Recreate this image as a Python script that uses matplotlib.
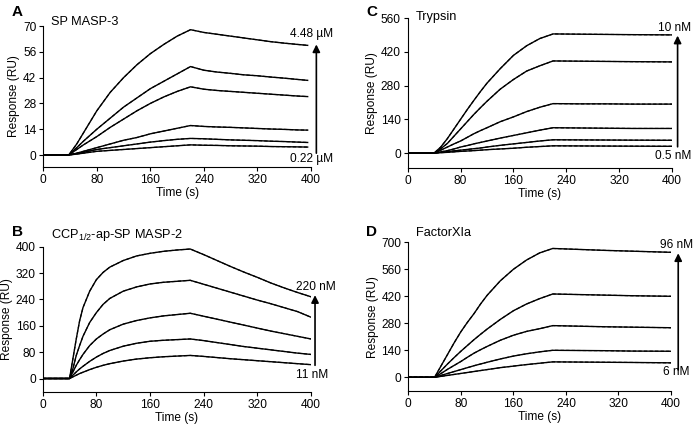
import numpy as np
import matplotlib
matplotlib.use('Agg')
import matplotlib.pyplot as plt

plt.rcParams['font.family'] = ['Liberation Sans', 'DejaVu Sans']
plt.rcParams['mathtext.fontset'] = 'custom'
plt.rcParams['mathtext.rm'] = 'Liberation Sans'

# ---- A : SP MASP-3 (µM series) ----
tA = [0, 38, 50, 60, 80, 100, 120, 140, 160, 180, 200, 220, 240, 260, 280, 300, 320, 340, 360, 380, 395]
a1 = [0, 0, 6, 12, 24, 34, 42, 49, 55, 60, 64.5, 68, 66.5, 65.5, 64.5, 63.5, 62.5, 61.5, 60.7, 60, 59.5]
a2 = [0, 0, 4, 7.5, 14, 20, 26, 31, 36, 40, 44, 48, 46, 45, 44.3, 43.5, 43, 42.3, 41.7, 41, 40.5]
a3 = [0, 0, 3, 5.5, 10, 15, 19.5, 24, 28, 31.5, 34.5, 37, 35.7, 35, 34.5, 34, 33.5, 33, 32.5, 32, 31.7]
a4 = [0, 0, 1, 2, 4, 6, 8, 9.5, 11.5, 13, 14.5, 16, 15.5, 15.2, 15, 14.7, 14.4, 14.1, 13.9, 13.6, 13.5]
a5 = [0, 0, 0.8, 1.5, 3, 4, 5, 6, 7, 7.8, 8.5, 9, 8.8, 8.5, 8.2, 8, 7.8, 7.5, 7.3, 7, 6.8]
a6 = [0, 0, 0.5, 1, 2, 2.5, 3, 3.5, 4, 4.5, 5, 5.5, 5.3, 5.2, 5, 4.9, 4.8, 4.6, 4.5, 4.4, 4.3]

# ---- B : CCP1/2-ap-SP MASP-2 ----
tB = [0, 40, 45, 50, 55, 60, 70, 80, 90, 100, 120, 140, 160, 180, 200, 220, 240, 260, 280, 300, 320, 340, 360, 380, 400]
b1 = [0, 0, 60, 120, 175, 215, 265, 300, 322, 338, 358, 372, 380, 386, 390, 393, 376, 358, 340, 323, 307, 290, 275, 261, 248]
b2 = [0, 0, 30, 70, 100, 128, 170, 200, 225, 243, 265, 278, 287, 292, 295, 298, 286, 274, 262, 250, 238, 227, 215, 203, 186]
b3 = [0, 0, 20, 40, 57, 73, 100, 120, 135, 148, 165, 176, 184, 190, 194, 198, 189, 180, 171, 162, 153, 144, 136, 128, 120]
b4 = [0, 0, 10, 20, 29, 37, 52, 65, 76, 85, 98, 107, 113, 116, 118, 120, 115, 109, 103, 97, 92, 87, 82, 77, 73]
b5 = [0, 0, 5, 10, 15, 19, 27, 34, 40, 45, 53, 59, 63, 66, 68, 70, 67, 63.5, 60, 57, 54, 51, 48, 45, 42]

# ---- C : Trypsin ----
tC = [0, 40, 50, 60, 70, 80, 90, 100, 110, 120, 140, 160, 180, 200, 220, 260, 300, 340, 400]
c1 = [0, 0, 25, 60, 100, 140, 180, 218, 255, 290, 350, 405, 445, 475, 494, 493, 492, 491, 490]
c2 = [0, 0, 18, 40, 70, 100, 130, 160, 188, 215, 265, 305, 340, 362, 382, 381, 380, 379, 378]
c3 = [0, 0, 12, 25, 38, 50, 65, 80, 93, 105, 130, 150, 172, 190, 205, 204, 204, 203, 203]
c4 = [0, 0, 5, 10, 17, 25, 31, 38, 44, 50, 62, 73, 84, 95, 105, 104, 103, 102, 102]
c5 = [0, 0, 3, 6, 9, 12, 15, 18, 21, 25, 32, 38, 44, 50, 55, 54.5, 54, 53.5, 53]
c6 = [0, 0, 1.5, 3, 5, 7, 8.5, 10, 12, 14, 17, 20, 24, 27, 30, 29.5, 29, 28.5, 28]

# ---- D : FactorXIa ----
tD = [0, 40, 50, 60, 70, 80, 90, 100, 110, 120, 140, 160, 180, 200, 220, 260, 300, 340, 400]
d1 = [0, 0, 60, 120, 180, 236, 285, 330, 380, 425, 500, 560, 608, 645, 668, 663, 658, 654, 648]
d2 = [0, 0, 35, 70, 103, 135, 165, 195, 223, 250, 300, 345, 380, 408, 432, 429, 426, 423, 420]
d3 = [0, 0, 20, 42, 62, 82, 104, 125, 143, 160, 192, 218, 238, 252, 268, 265, 262, 260, 257]
d4 = [0, 0, 10, 20, 30, 40, 50, 60, 69, 78, 95, 110, 122, 132, 140, 139, 138, 136, 135]
d5 = [0, 0, 5, 10, 15, 20, 25, 30, 35, 40, 50, 58, 66, 73, 80, 79, 78, 77, 75]

xticks = [0, 80, 160, 240, 320, 400]

fig = plt.figure(figsize=(6.97, 4.25), dpi=100)
axA = fig.add_axes([0.0621, 0.6071, 0.3841, 0.3317])
axC = fig.add_axes([0.5850, 0.6047, 0.3791, 0.3529])
axB = fig.add_axes([0.0613, 0.0784, 0.3849, 0.3411])
axD = fig.add_axes([0.5858, 0.0800, 0.3769, 0.3499])

panels = [
    (axA, tA, [a1, a2, a3, a4, a5, a6], (-6.5, 70), [0, 14, 28, 42, 56, 70], 'SP MASP-3', 1.025,
     '4.48 µM', '0.22 µM', (401, 65.7), (401, -2.2), (408, 1, 60)),
    (axB, tB, [b1, b2, b3, b4, b5], (-40, 400), [0, 80, 160, 240, 320, 400],
     r'CCP$_{\mathregular{1/2}}$-ap-SP MASP-2', 1.08,
     '220 nM', '11 nM', (407, 277), (401, 12), (406, 40, 253)),
    (axC, tC, [c1, c2, c3, c4, c5, c6], (-62, 560), [0, 140, 280, 420, 560], 'Trypsin', 1.01,
     '10 nM', '0.5 nM', (404, 517), (402, -12), (408.5, 26, 487)),
    (axD, tD, [d1, d2, d3, d4, d5], (-71, 700), [0, 140, 280, 420, 560, 700], 'FactorXIa', 1.06,
     '96 nM', '6 nM', (408.5, 686), (407.5, 29), (411, 38, 643)),
]

for ax, t, curves, ylim, yticks, title, ty, top_lab, bot_lab, tpos, bpos, arr in panels:
    for y in curves:
        ax.plot(t, y, color='black', lw=1.0)
        ax.plot(t, y, color='black', lw=0.8, ls=(0, (3, 2)))
    ax.set_xlim(0, 400)
    ax.set_ylim(*ylim)
    ax.set_xticks(xticks)
    ax.set_yticks(yticks)
    for s in ['top', 'right']:
        ax.spines[s].set_visible(False)
    ax.spines['left'].set_bounds(ylim[0], ylim[1])
    ax.tick_params(labelsize=8.6, length=3, width=0.8, direction='out', pad=2)
    ax.set_xlabel('Time (s)', fontsize=8.6, labelpad=1)
    ax.set_ylabel('Response (RU)', fontsize=8.6, labelpad=2)
    ax.text(0.03, ty, title, transform=ax.transAxes, fontsize=9.2, va='center', ha='left')
    ax.text(tpos[0], tpos[1], top_lab, fontsize=8.6, ha='center', va='center', clip_on=False)
    ax.text(bpos[0], bpos[1], bot_lab, fontsize=8.6, ha='center', va='center', clip_on=False)
    ax.annotate('', xy=(arr[0], arr[2]), xytext=(arr[0], arr[1]), annotation_clip=False,
                arrowprops=dict(arrowstyle='-|>', color='black', lw=1.2,
                                mutation_scale=11, shrinkA=0, shrinkB=0))

fig.text(12 / 697, 1 - 12 / 425, 'A', fontsize=11, fontweight='bold', va='center', ha='left')
fig.text(366 / 697, 1 - 12 / 425, 'C', fontsize=11, fontweight='bold', va='center', ha='left')
fig.text(12 / 697, 1 - 232 / 425, 'B', fontsize=11, fontweight='bold', va='center', ha='left')
fig.text(366 / 697, 1 - 232 / 425, 'D', fontsize=11, fontweight='bold', va='center', ha='left')

fig.savefig('out.png', dpi=100)
